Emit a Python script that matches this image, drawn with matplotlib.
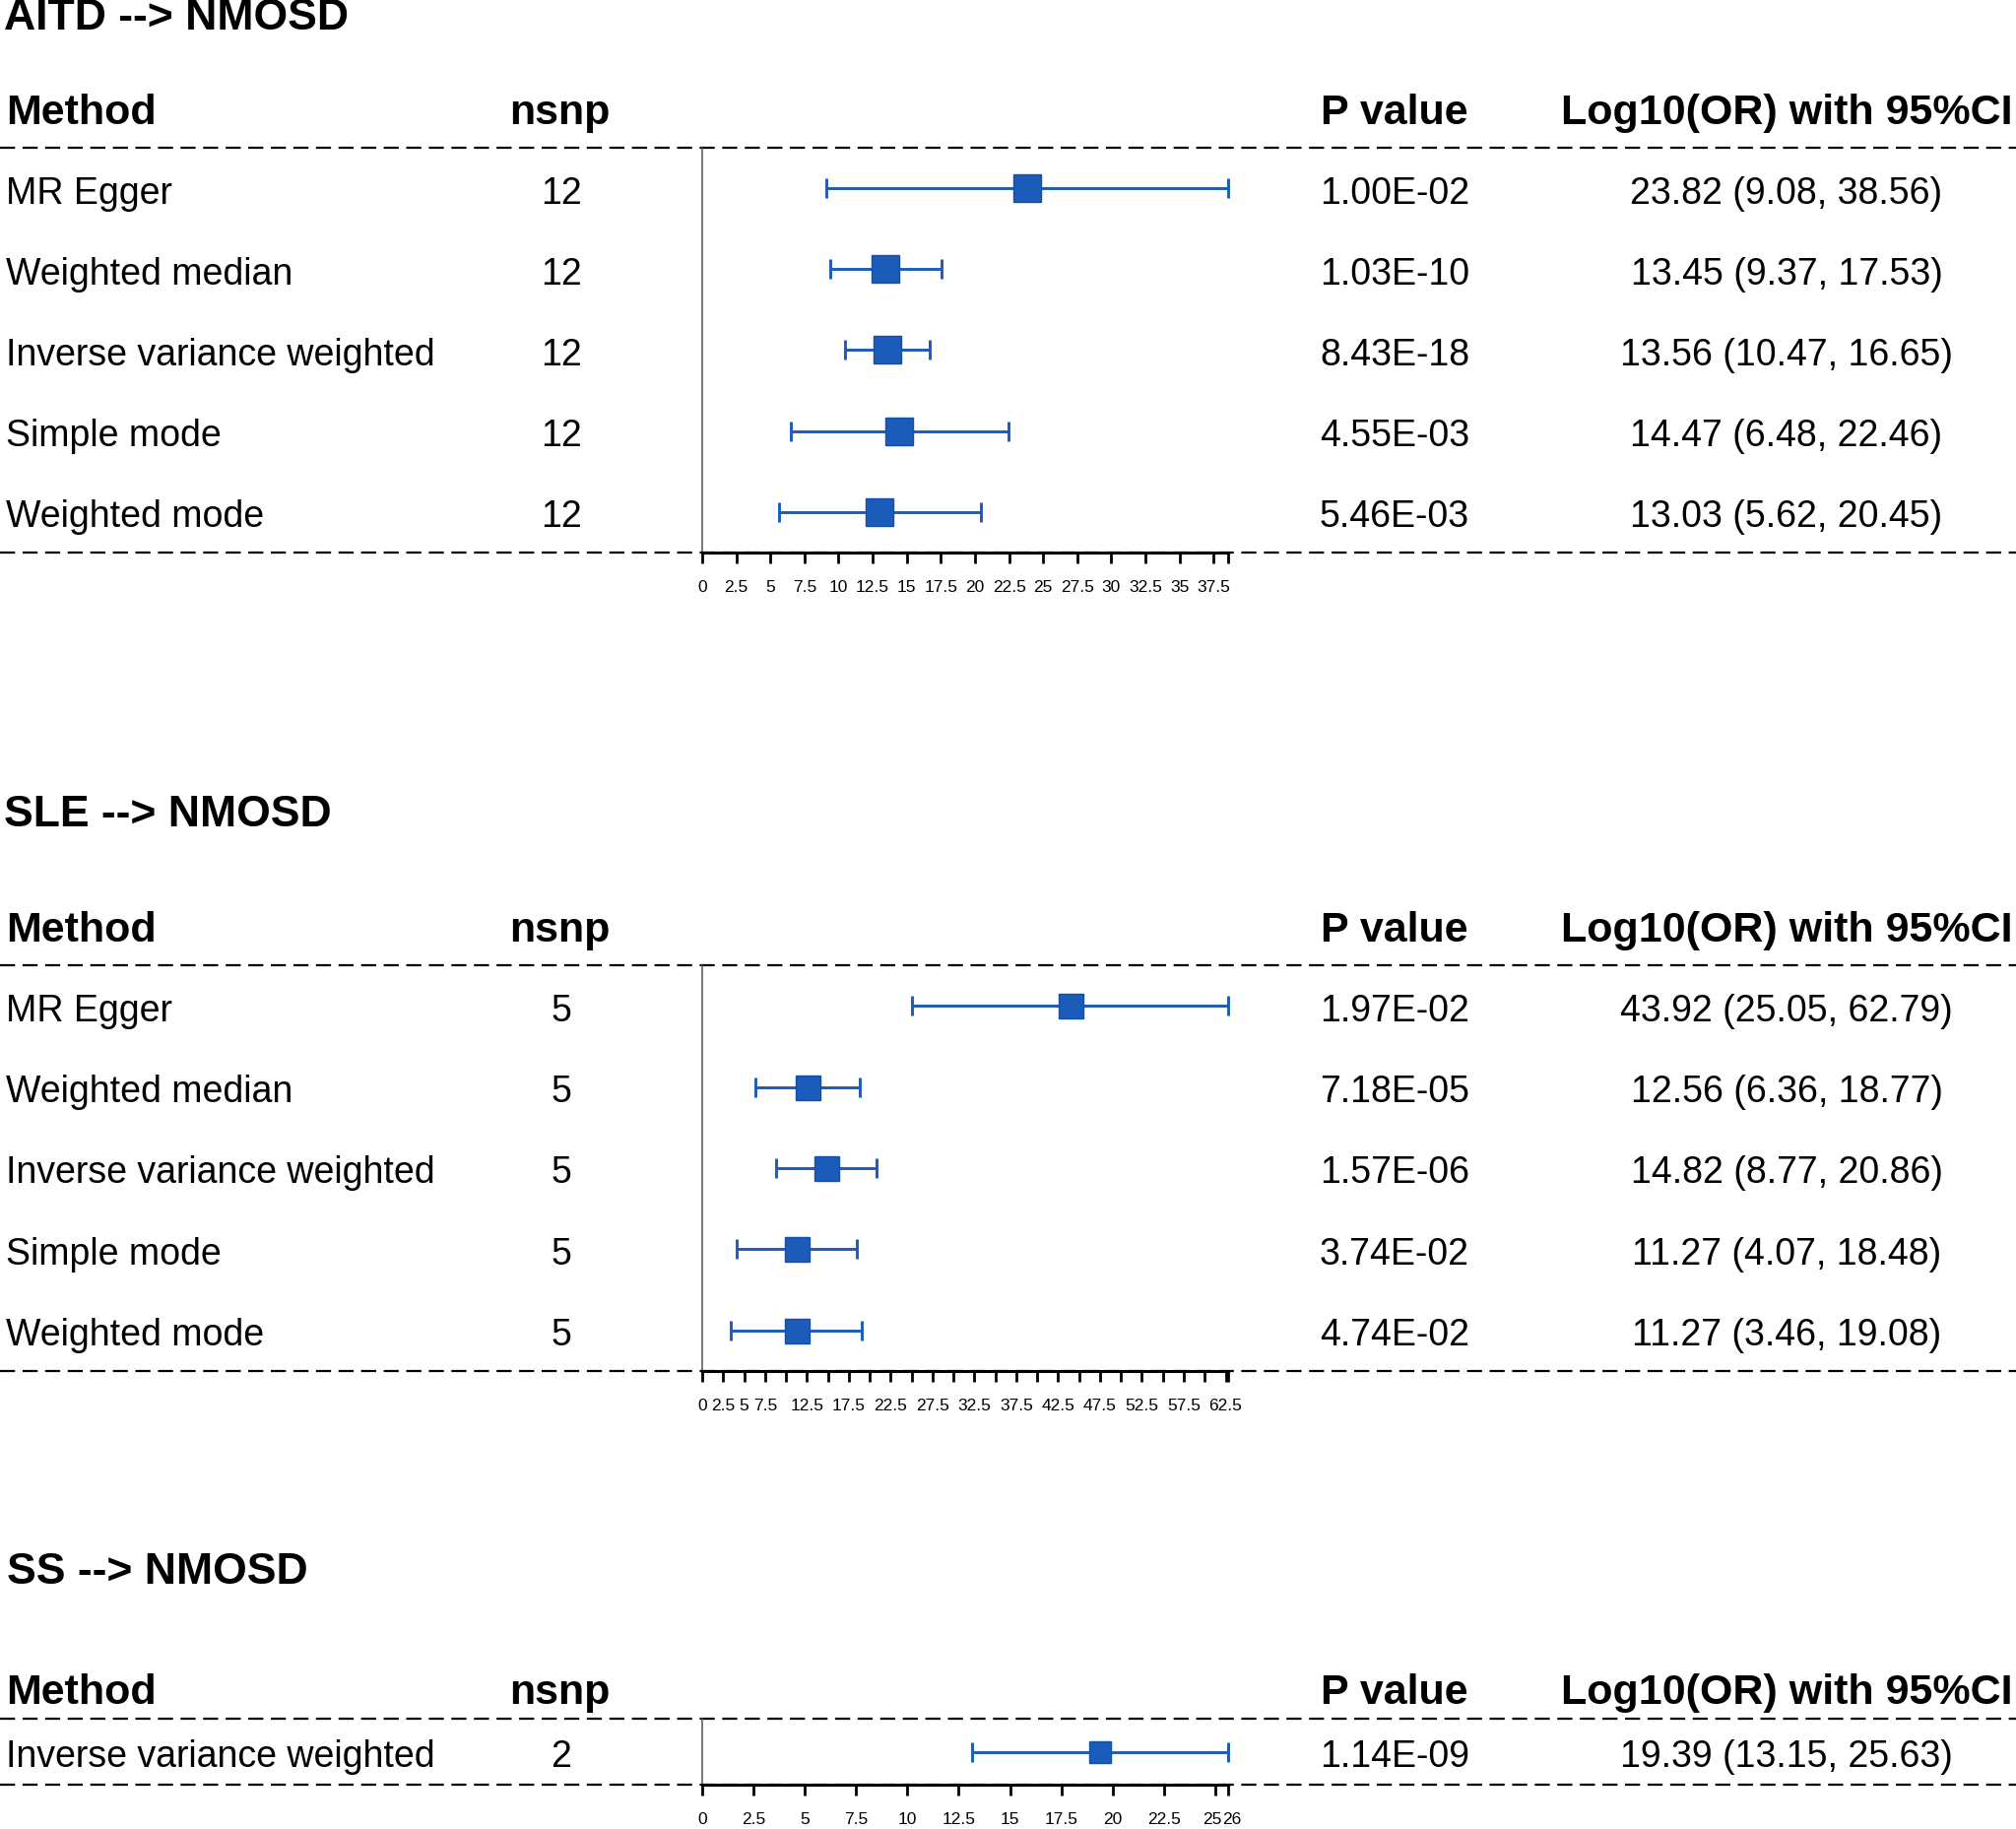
import numpy as np
import matplotlib
matplotlib.use("Agg")
import matplotlib.pyplot as plt
from matplotlib import font_manager
from matplotlib.transforms import ScaledTranslation

# ---------------- data ----------------
panel_titles = ["AITD --> NMOSD", "SLE --> NMOSD", "SS --> NMOSD"]
col_headers = ["Method", "nsnp", "P value", "Log10(OR) with 95%CI"]

aitd_methods = ["MR Egger", "Weighted median", "Inverse variance weighted", "Simple mode", "Weighted mode"]
aitd_nsnp = [12, 12, 12, 12, 12]
aitd_p = ["1.00E-02", "1.03E-10", "8.43E-18", "4.55E-03", "5.46E-03"]
aitd_or = [23.82, 13.45, 13.56, 14.47, 13.03]
aitd_lo = [9.08, 9.37, 10.47, 6.48, 5.62]
aitd_hi = [38.56, 17.53, 16.65, 22.46, 20.45]

sle_methods = ["MR Egger", "Weighted median", "Inverse variance weighted", "Simple mode", "Weighted mode"]
sle_nsnp = [5, 5, 5, 5, 5]
sle_p = ["1.97E-02", "7.18E-05", "1.57E-06", "3.74E-02", "4.74E-02"]
sle_or = [43.92, 12.56, 14.82, 11.27, 11.27]
sle_lo = [25.05, 6.36, 8.77, 4.07, 3.46]
sle_hi = [62.79, 18.77, 20.86, 18.48, 19.08]

ss_methods = ["Inverse variance weighted"]
ss_nsnp = [2]
ss_p = ["1.14E-09"]
ss_or = [19.39]
ss_lo = [13.15]
ss_hi = [25.63]

# labelled ticks / unlabelled ticks of each forest axis
aitd_ticks = [0, 2.5, 5, 7.5, 10, 12.5, 15, 17.5, 20, 22.5, 25, 27.5, 30, 32.5, 35, 37.5]
aitd_ticklabels = ["0", "2.5", "5", "7.5", "10", "12.5", "15", "17.5", "20", "22.5", "25", "27.5",
                   "30", "32.5", "35", "37.5"]
aitd_bare_ticks = [38.56]
sle_ticks = [0, 2.5, 5, 7.5, 12.5, 17.5, 22.5, 27.5, 32.5, 37.5, 42.5, 47.5, 52.5, 57.5, 62.5]
sle_ticklabels = ["0", "2.5", "5", "7.5", "12.5", "17.5", "22.5", "27.5", "32.5", "37.5", "42.5",
                  "47.5", "52.5", "57.5", "62.5"]
sle_bare_ticks = [10, 15, 20, 25, 30, 35, 40, 45, 50, 55, 60, 62.79]
ss_ticks = [0, 2.5, 5, 7.5, 10, 12.5, 15, 17.5, 20, 22.5, 25, 25.63]
ss_ticklabels = ["0", "2.5", "5", "7.5", "10", "12.5", "15", "17.5", "20", "22.5", "25", "26"]
ss_bare_ticks = []

panels = [
    dict(title=panel_titles[0], methods=aitd_methods, nsnp=aitd_nsnp, p=aitd_p, est=aitd_or,
         lo=aitd_lo, hi=aitd_hi, ticks=aitd_ticks, tl=aitd_ticklabels, bare=aitd_bare_ticks),
    dict(title=panel_titles[1], methods=sle_methods, nsnp=sle_nsnp, p=sle_p, est=sle_or,
         lo=sle_lo, hi=sle_hi, ticks=sle_ticks, tl=sle_ticklabels, bare=sle_bare_ticks),
    dict(title=panel_titles[2], methods=ss_methods, nsnp=ss_nsnp, p=ss_p, est=ss_or,
         lo=ss_lo, hi=ss_hi, ticks=ss_ticks, tl=ss_ticklabels, bare=ss_bare_ticks),
]

# ---------------- layout (pixels) ----------------
W, H = 2047, 1857
DPI = 100
layout = [
    dict(title_x=4, title_y=14, header_y=111, top=150, bottom=561, ms=27),
    dict(title_x=4, title_y=823, header_y=941, top=980, bottom=1392, ms=25),
    dict(title_x=7, title_y=1592, header_y=1715, top=1745, bottom=1812, ms=22),
]
x_method = 6
x_nsnp = 570
x_p = 1416
x_or = 1814
x_plot0, x_plot1 = 713, 1247
BLUE = "#1B5BBA"

names = {f.name for f in font_manager.fontManager.ttflist}
if "Liberation Sans Narrow" in names:
    FONT = ["Liberation Sans Narrow", "DejaVu Sans"]
    fs_body, fs_title, fs_head, fs_tick = 33, 39, 37, 15
else:
    FONT = ["Liberation Sans", "DejaVu Sans"]
    fs_body, fs_title, fs_head, fs_tick = 27, 32, 31, 12.5
plt.rcParams["font.family"] = FONT
plt.rcParams["lines.scale_dashes"] = False


def px(pt):
    return pt * DPI / 72.0


fig = plt.figure(figsize=(W / DPI, H / DPI), dpi=DPI)
bg = fig.add_axes([0, 0, 1, 1])
bg.set_xlim(0, W)
bg.set_ylim(H, 0)
bg.axis("off")


def put(x, yc, s, fs, ha="left", bold=False):
    bg.text(x, yc + 0.358 * px(fs), s, fontsize=fs, ha=ha, va="baseline",
            fontweight="bold" if bold else "normal", color="black")


dash = (0, (11, 5.5))
for pnl, lay in zip(panels, layout):
    n = len(pnl["methods"])
    top, bot = lay["top"], lay["bottom"]
    step = (bot - top) / n
    put(lay["title_x"], lay["title_y"], pnl["title"], fs_title, bold=True)
    put(x_method, lay["header_y"], col_headers[0], fs_head, bold=True)
    put(x_nsnp - 2, lay["header_y"], col_headers[1], fs_head, ha="center", bold=True)
    put(x_p, lay["header_y"], col_headers[2], fs_head, ha="center", bold=True)
    put(x_or, lay["header_y"], col_headers[3], fs_head, ha="center", bold=True)
    bg.plot([0, W], [top, top], color="black", lw=1.6, ls=dash)
    bg.plot([0, W], [bot, bot], color="black", lw=1.6, ls=dash)
    for i in range(n):
        yc = top + (i + 0.5) * step + 2
        put(x_method, yc, pnl["methods"][i], fs_body)
        put(x_nsnp, yc, str(pnl["nsnp"][i]), fs_body, ha="center")
        put(x_p, yc, pnl["p"][i], fs_body, ha="center")
        put(x_or, yc, f"{pnl['est'][i]:.2f} ({pnl['lo'][i]:.2f}, {pnl['hi'][i]:.2f})", fs_body, ha="center")

    fax = fig.add_axes([x_plot0 / W, 1 - bot / H, (x_plot1 - x_plot0) / W, (bot - top) / H])
    fax.patch.set_alpha(0)
    est = np.array(pnl["est"])
    lo = np.array(pnl["lo"])
    hi = np.array(pnl["hi"])
    rows = np.arange(n)
    fax.set_xlim(0, max(pnl["hi"]))
    fax.set_ylim(n - 0.5, -0.5)
    cont = fax.errorbar(est, rows, xerr=[est - lo, hi - est], fmt="none", ecolor=BLUE,
                        elinewidth=2.1, capsize=7, capthick=2.1)
    for art in cont.get_children():
        art.set_clip_on(False)
    fax.plot(est, rows, linestyle="none", marker="s", markersize=lay["ms"] * 72 / DPI,
             markerfacecolor=BLUE, markeredgecolor="#1450A8", markeredgewidth=1.0, clip_on=False,
             zorder=3)
    for s in ("top", "right"):
        fax.spines[s].set_visible(False)
    fax.spines["left"].set_color("#555555")
    fax.spines["left"].set_linewidth(1.1)
    fax.spines["bottom"].set_color("black")
    fax.spines["bottom"].set_linewidth(2.2)
    fax.set_yticks([])
    fax.set_xticks(pnl["ticks"])
    fax.set_xticklabels(pnl["tl"], fontsize=fs_tick)
    fax.set_xticks(pnl["bare"], minor=True)
    fax.tick_params(axis="x", which="both", direction="out", length=8, width=2.0, pad=12,
                    colors="black")
    # the two crowded last labels of a short axis are nudged apart a little
    labels = fax.get_xticklabels()
    if len(pnl["ticks"]) >= 2 and pnl["ticks"][-1] - pnl["ticks"][-2] < 1.0:
        labels[-2].set_transform(labels[-2].get_transform() + ScaledTranslation(-3 / DPI, 0, fig.dpi_scale_trans))
        labels[-1].set_transform(labels[-1].get_transform() + ScaledTranslation(4 / DPI, 0, fig.dpi_scale_trans))

fig.savefig("out.png", dpi=DPI)
